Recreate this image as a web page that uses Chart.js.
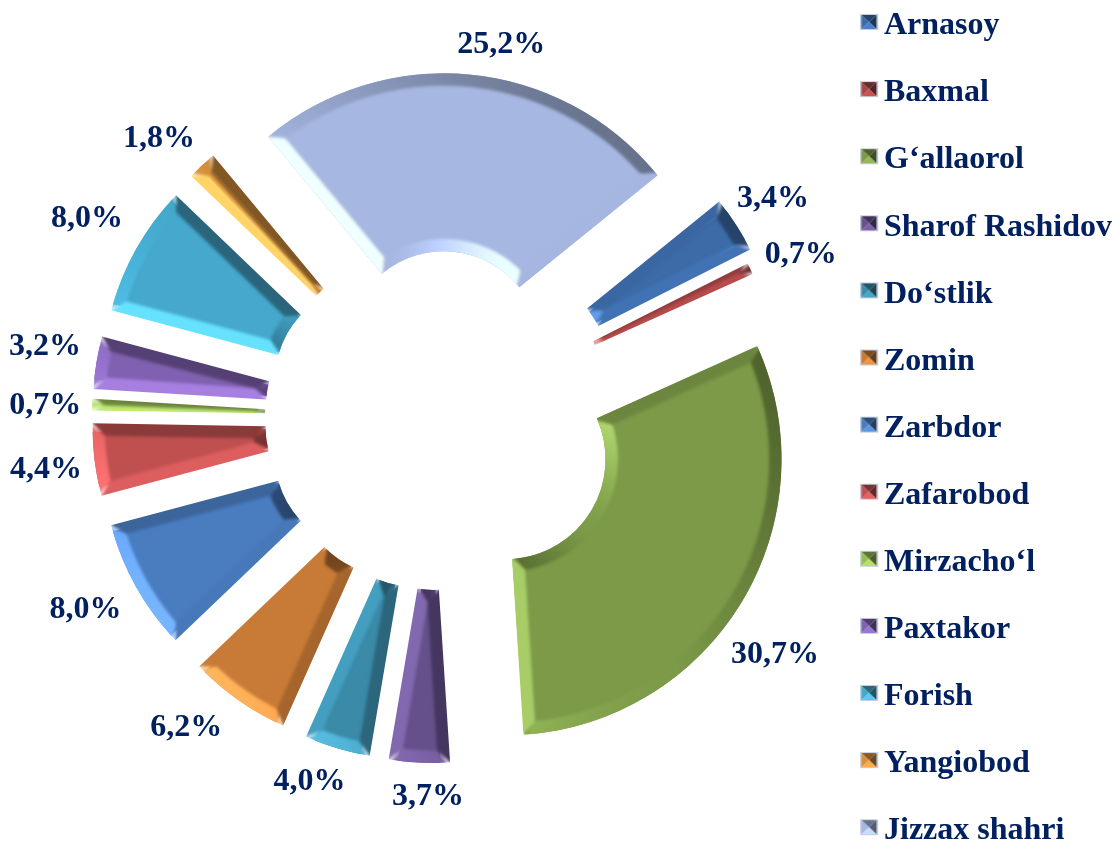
<!DOCTYPE html>
<html><head><meta charset="utf-8">
<style>
html,body{margin:0;padding:0;background:#fff;width:1113px;height:843px;overflow:hidden;position:relative}
#wrap{position:absolute;left:0;top:-10px;width:1113px;height:960px}
</style>
<script src="https://cdn.jsdelivr.net/npm/chart.js@4"></script>
</head><body>
<div id="wrap"><canvas id="c" width="1113" height="960"></canvas></div>
<script>
const categories = ["Arnasoy","Baxmal","G‘allaorol","Sharof Rashidov","Do‘stlik","Zomin","Zarbdor","Zafarobod","Mirzacho‘l","Paxtakor","Forish","Yangiobod","Jizzax shahri"];
const shares = [3.4,0.7,30.7,3.7,4.0,6.2,8.0,4.4,0.7,3.2,8.0,1.8,25.2];
const sliceColors = ["#3c6ba8","#a84444","#7c9a48","#66508c","#3a8aa8","#c87b36","#4a7cc0","#c05050","#98bb55","#8060b0","#45a8cc","#d8903c","#a6b7e1"];
const outerRadii = [268,265,276,265,265,265,265,265,265,265,265,265,275];
const innerRadii = [98,92,100,92,92,92,92,92,92,92,92,92,97];
const explodeBy = [88,82,80,80,80,80,80,80,80,80,80,80,70];
const labelDistance = [402,399,410,376,383,397,400,395,393,400,405,397,382];
const labelAngleShift = [-0.7,0.9,3.7,-1.4,2.8,4.2,1.1,-0.2,0,1.5,0.5,-1.7,3.9];
const bevel = 12, navy = "#002060", fontFamily = "'Liberation Serif','Times New Roman',serif";
const light = [-0.75, 0.66];
const legendText = 32, legendGap = 35.1, legendX = 860.5, legendY = 20;

function shade(hex, f, add){
  const n = parseInt(hex.slice(1),16);
  const c = [n>>16, (n>>8)&255, n&255].map(v=>Math.max(0,Math.min(255,Math.round(v*f+(add||0)))));
  return `rgb(${c[0]},${c[1]},${c[2]})`;
}
function edgeColor(hex, nx, ny, darkness, power){
  const s = nx*light[0]+ny*light[1]-0.05;
  if(s>0){ const p=Math.pow(s,power); return shade(hex, 1+0.32*p, 26*p*p); }
  return shade(hex, 1+darkness*s);
}
function makeIcon(hex){
  const cv = document.createElement('canvas'); cv.width = 40; cv.height = 80;
  const g = cv.getContext('2d');
  const w = 17, h = 16, x0 = 20-3.75, y0 = 40-4-h/2, mx = x0+w/2, my = y0+h/2;
  const tri = (a,b,c,f)=>{g.fillStyle=shade(hex,f);g.beginPath();g.moveTo(...a);g.lineTo(...b);g.lineTo(...c);g.closePath();g.fill();};
  tri([x0,y0],[x0+w,y0],[mx,my],0.62);
  tri([x0+w,y0],[x0+w,y0+h],[mx,my],0.5);
  tri([x0,y0],[x0,y0+h],[mx,my],1.0);
  tri([x0,y0+h],[x0+w,y0+h],[mx,my],1.2);
  g.strokeStyle='#c4cede'; g.lineWidth=1; g.strokeRect(x0+.5,y0+.5,w-1,h-1);
  return cv;
}
const icons = sliceColors.map(makeIcon);

const geometryPlugin = {
  id:'geometry',
  afterLayout(chart){
    const a = chart.chartArea;
    a.left = 8; a.right = 866; a.top = 0; a.bottom = 856;
    a.width = a.right-a.left; a.height = a.bottom-a.top;
    const lg = chart.legend;
    lg.left = legendX-legendGap; lg.top = legendY-legendGap;
  },
  afterDatasetsUpdate(chart){
    chart.getDatasetMeta(0).data.forEach((el,i)=>{
      const fix = 1-Math.sin(Math.min(Math.PI, el.circumference||0));
      el.outerRadius = outerRadii[i]-explodeBy[i]*fix;
      el.innerRadius = innerRadii[i]-explodeBy[i]*fix;
    });
  }
};
function slicePath(ctx,ax,ay,R,r,a1,a2){
  ctx.beginPath(); ctx.arc(ax,ay,R,a1,a2); ctx.arc(ax,ay,r,a2,a1,true); ctx.closePath();
}
const bevelPlugin = {
  id:'bevel',
  afterDatasetsDraw(chart){
    const ctx = chart.ctx;
    chart.getDatasetMeta(0).data.forEach((el,i)=>{
      const hex = sliceColors[i], d = explodeBy[i];
      const a1 = el.startAngle, a2 = el.endAngle, mid=(a1+a2)/2, half=(a2-a1)/2;
      const ax = el.x+Math.cos(mid)*d, ay = el.y+Math.sin(mid)*d;
      const fix = 1-Math.sin(Math.min(Math.PI, el.circumference));
      const R = el.outerRadius+d*fix, r = el.innerRadius+d*fix;
      const w = Math.min(bevel,(R-r)/2);
      const dO = Math.min(Math.asin(w/(R-w)),half*0.98), dI = Math.min(Math.asin(Math.min(1,w/(r+w))),half*0.98);
      const pt=(rad,ang)=>[ax+Math.cos(ang)*rad, ay+Math.sin(ang)*rad];
      const off = document.createElement('canvas'); off.width=chart.width; off.height=chart.height;
      const g = off.getContext('2d');
      const quad=(p,color)=>{g.fillStyle=color;g.strokeStyle=color;g.lineWidth=0.7;g.beginPath();g.moveTo(...p[0]);p.slice(1).forEach(q=>g.lineTo(...q));g.closePath();g.fill();g.stroke();};
      const pad=6, N=Math.max(6,Math.ceil((a2-a1)/0.03));
      for(let k=0;k<N;k++){
        const t0=k/N,t1=(k+1)/N,tm=(t0+t1)/2;
        const th0=a1+(a2-a1)*t0, th1=a1+(a2-a1)*t1, thm=a1+(a2-a1)*tm;
        const io=(t)=>a1+dO+(a2-a1-2*dO)*t, ii=(t)=>a1+dI+(a2-a1-2*dI)*t;
        quad([pt(R+pad,th0),pt(R+pad,th1),pt(R-w,io(t1)),pt(R-w,io(t0))],edgeColor(hex,Math.cos(thm),Math.sin(thm),0.36,1.6));
        quad([pt(r-pad,th0),pt(r-pad,th1),pt(r+w,ii(t1)),pt(r+w,ii(t0))],edgeColor(hex,-Math.cos(thm),-Math.sin(thm),0.42,1.6));
      }
      quad([pt(R+pad,a1-pad/R),pt(r-pad,a1-pad/r),pt(r+w,a1+dI),pt(R-w,a1+dO)],edgeColor(hex,Math.sin(a1),-Math.cos(a1),0.38,1));
      quad([pt(R+pad,a2+pad/R),pt(r-pad,a2+pad/r),pt(r+w,a2-dI),pt(R-w,a2-dO)],edgeColor(hex,-Math.sin(a2),Math.cos(a2),0.38,1));
      ctx.save();
      slicePath(ctx,ax,ay,R,r,a1,a2); ctx.clip();
      ctx.filter='blur(1.5px)';
      ctx.drawImage(off,0,0,chart.width,chart.height);
      ctx.restore();
    });
    // percent labels
    ctx.save();
    ctx.font = `bold ${legendText}px ${fontFamily}`; ctx.fillStyle=navy; ctx.textAlign='center'; ctx.textBaseline='middle';
    chart.getDatasetMeta(0).data.forEach((el,i)=>{
      const ang=(el.startAngle+el.endAngle)/2+labelAngleShift[i]*Math.PI/180;
      ctx.fillText(shares[i].toFixed(1).replace('.',',')+'%', el.x+1+Math.cos(ang)*labelDistance[i], el.y+3+Math.sin(ang)*labelDistance[i]);
    });
    ctx.restore();
  }
};
new Chart(document.getElementById('c'),{
  type:'doughnut',
  data:{labels:categories,datasets:[{data:shares,backgroundColor:sliceColors,borderWidth:0,offset:explodeBy.map(v=>v*4),clip:false}]},
  plugins:[geometryPlugin,bevelPlugin],
  options:{
    responsive:false,animation:false,events:[],
    rotation:51,cutout:'38%',radius:265,
    layout:{padding:0},
    plugins:{
      tooltip:{enabled:false},
      legend:{
        position:'right',align:'start',
        labels:{
          color:navy,padding:legendGap,usePointStyle:true,pointStyleWidth:7.5,boxHeight:legendText,
          font:{family:fontFamily,size:legendText,weight:'bold'},
          generateLabels:(chart)=>chart.data.labels.map((t,i)=>({text:t,fontColor:navy,fillStyle:sliceColors[i],strokeStyle:sliceColors[i],lineWidth:0,pointStyle:icons[i],index:i,hidden:false}))
        }
      }
    }
  }
});
</script>
</body></html>
